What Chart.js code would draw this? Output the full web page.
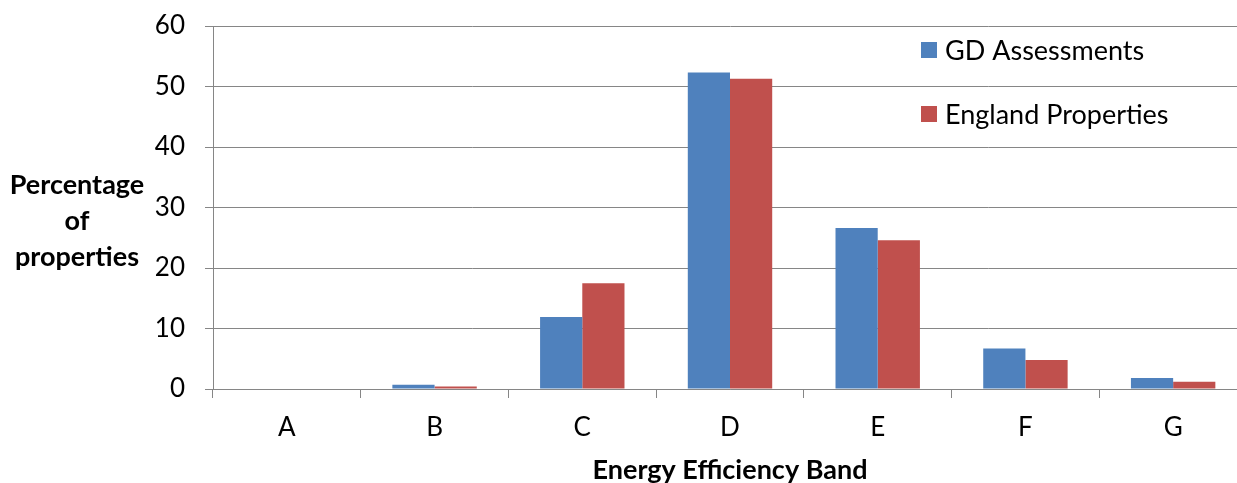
<!DOCTYPE html>
<html>
<head>
<meta charset="utf-8">
<script src="https://cdn.jsdelivr.net/npm/chart.js@4.4.0/dist/chart.umd.min.js"></script>
<style>
  html, body { margin: 0; padding: 0; background: #fff; overflow: hidden; }
  #wrap { width: 1247px; height: 483px; position: relative; }
</style>
</head>
<body>
<div id="wrap"><canvas id="c" width="1247" height="483"></canvas></div>
<script>
const categories = ['A', 'B', 'C', 'D', 'E', 'F', 'G'];
const gdAssessments = [0, 0.7, 11.9, 52.3, 26.6, 6.7, 1.8];
const englandProperties = [0, 0.4, 17.5, 51.3, 24.6, 4.8, 1.2];
const seriesNames = ['GD Assessments', 'England Properties'];
const yTitleLines = ['Percentage', 'of', 'properties'];
const xTitle = 'Energy Efficiency Band';

const FONT = 'Lato, "Open Sans", sans-serif';
const GRID = '#868686';

const insideLegend = {
  id: 'insideLegend',
  afterDraw(chart) {
    const ctx = chart.ctx;
    const a = chart.chartArea;
    ctx.save();
    ctx.font = '27px ' + FONT;
    ctx.textBaseline = 'middle';
    ctx.textAlign = 'left';
    chart.data.datasets.forEach((ds, i) => {
      const cy = a.top + 24 + i * 64;
      const x = a.left + 708;
      ctx.fillStyle = ds.backgroundColor;
      ctx.fillRect(x, cy - 8, 16, 16);
      ctx.fillStyle = '#000';
      ctx.fillText(ds.label, x + 24, cy + 1);
    });
    ctx.restore();
  }
};

const yTitle = {
  id: 'yTitle',
  afterDraw(chart) {
    const ctx = chart.ctx;
    ctx.save();
    ctx.font = 'bold 27px ' + FONT;
    ctx.textAlign = 'center';
    ctx.textBaseline = 'middle';
    ctx.fillStyle = '#000';
    yTitleLines.forEach((t, i) => ctx.fillText(t, 77, 185 + i * 36));
    ctx.restore();
  }
};

new Chart(document.getElementById('c'), {
  type: 'bar',
  data: {
    labels: categories,
    datasets: [
      { label: seriesNames[0], data: gdAssessments, backgroundColor: '#4F81BD' },
      { label: seriesNames[1], data: englandProperties, backgroundColor: '#C0504D' }
    ]
  },
  options: {
    responsive: false,
    animation: false,
    devicePixelRatio: 1,
    layout: { padding: { top: 26, left: 0, right: 0, bottom: 0 } },
    categoryPercentage: 2 / 3.5,
    barPercentage: 1,
    plugins: { legend: { display: false }, tooltip: { enabled: false } },
    scales: {
      x: {
        afterFit(s) { s.height = 94; s.paddingLeft = 0; s.paddingRight = 0; },
        grid: { offset: true, drawOnChartArea: false, color: GRID, tickLength: 9, lineWidth: 1 },
        border: { color: GRID, width: 1 },
        ticks: { color: '#000', font: { family: FONT, size: 26 }, padding: 14 },
        title: { display: true, text: xTitle, color: '#000', font: { family: FONT, size: 27, weight: 'bold' }, padding: { top: 0, bottom: -3 } }
      },
      y: {
        min: 0, max: 60,
        afterFit(s) { s.width = 213; s.paddingTop = 0; s.paddingBottom = 0; },
        grid: { color: GRID, tickLength: 8, lineWidth: 1 },
        border: { color: GRID, width: 1 },
        ticks: { stepSize: 10, color: '#000', font: { family: FONT, size: 26 }, padding: 20 }
      }
    }
  },
  plugins: [insideLegend, yTitle]
});
</script>
</body>
</html>
